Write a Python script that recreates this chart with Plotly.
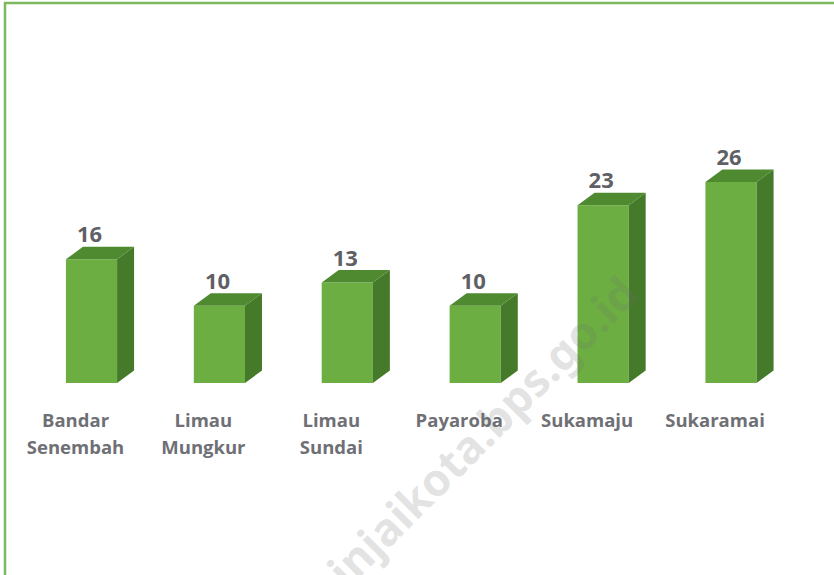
import plotly.graph_objects as go

label_line1 = ["Bandar", "Limau", "Limau", "Payaroba", "Sukamaju", "Sukaramai"]
label_line2 = ["Senembah", "Mungkur", "Sundai", "", "", ""]
values = [16, 10, 13, 10, 23, 26]
watermark = "binjaikota.bps.go.id"

W, H = 834, 575
BASE_PX, TOP_PX = 383, 100
PX_PER_UNIT = 7.73
STEP_PX, FIRST_PX = 127.9, 91.5
x_range = [-FIRST_PX / STEP_PX, (W - FIRST_PX) / STEP_PX]
y_range = [0, (BASE_PX - TOP_PX) / PX_PER_UNIT]

half = 0.2
dx = 17 / STEP_PX
dy = 12.5 / PX_PER_UNIT
xs = list(range(len(values)))

side_x, side_y, top_x, top_y = [], [], [], []
for i, v in zip(xs, values):
    r, l = i + half, i - half
    side_x += [r, r + dx, r + dx, r, r, None]
    side_y += [0, dy, v + dy, v, 0, None]
    top_x += [l, l + dx, r + dx, r, l, None]
    top_y += [v, v + dy, v + dy, v, v, None]

TEXT = "#6f7075"
FONT = "Open Sans"

fig = go.Figure()
fig.add_trace(go.Bar(x=xs, y=values, width=2 * half, marker=dict(color="#6cae41", line=dict(width=0)),
                     hoverinfo="skip"))
fig.add_trace(go.Scatter(x=side_x, y=side_y, mode="lines", fill="toself", fillcolor="#457a2a",
                         line=dict(width=0), hoverinfo="skip"))
fig.add_trace(go.Scatter(x=top_x, y=top_y, mode="lines", fill="toself", fillcolor="#4f8a30",
                         line=dict(width=0), hoverinfo="skip"))
fig.add_trace(go.Scatter(x=[i - 0.015 for i in xs], y=[v + 22.5 / PX_PER_UNIT for v in values],
                         mode="text", text=[str(v) for v in values], textposition="middle center",
                         textfont=dict(family=FONT, size=22, color="#5f6066", weight=700), hoverinfo="skip"))
fig.add_trace(go.Scatter(x=xs, y=[0] * len(xs), xaxis="x2", mode="markers",
                         marker=dict(opacity=0), hoverinfo="skip"))

tick_font = dict(family=FONT, size=18.5, color=TEXT, weight=700)
fig.update_layout(
    width=W, height=H, autosize=False, showlegend=False, bargap=0.6,
    paper_bgcolor="white", plot_bgcolor="white",
    margin=dict(l=0, r=0, t=TOP_PX, b=H - BASE_PX, pad=0),
    xaxis=dict(range=x_range, tickmode="array", tickvals=xs, ticktext=label_line1, tickfont=tick_font,
               ticklabelshift=-16, ticklabelstandoff=24, ticks="", showgrid=False, zeroline=False, showline=False),
    xaxis2=dict(range=x_range, overlaying="x", anchor="y", side="bottom", tickmode="array", tickvals=xs,
                ticktext=label_line2, tickfont=tick_font, ticklabelshift=-16, ticklabelstandoff=51, ticks="",
                showgrid=False, zeroline=False, showline=False),
    yaxis=dict(range=y_range, visible=False),
    shapes=[dict(type="rect", xref="paper", yref="paper", layer="above", x0=5 / W, x1=(W + 20) / W,
                 y0=(BASE_PX - H - 20) / (BASE_PX - TOP_PX), y1=(BASE_PX - 3) / (BASE_PX - TOP_PX),
                 line=dict(color="#7cb95c", width=2.5))],
    annotations=[dict(text=watermark, xref="paper", yref="paper", x=471 / W,
                      y=(BASE_PX - 441) / (BASE_PX - TOP_PX), xanchor="center", yanchor="middle",
                      textangle=-45, showarrow=False,
                      font=dict(family="Noto Sans", size=45, color="rgba(110,110,110,0.2)", weight=700))],
)
fig.write_html("out.html", config=dict(displayModeBar=False),
               post_script="document.body.style.margin='0';document.documentElement.style.overflow='hidden';")
